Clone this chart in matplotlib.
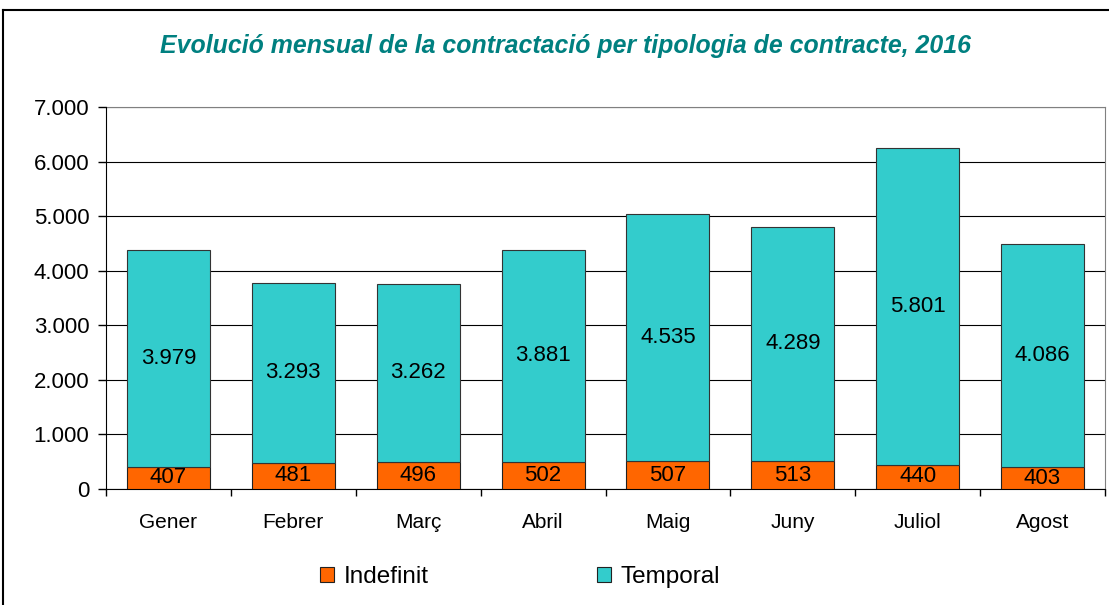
import numpy as np
import matplotlib.pyplot as plt
from matplotlib.ticker import FuncFormatter
from matplotlib.lines import Line2D
from matplotlib.patches import Patch

# data
months = ["Gener", "Febrer", "Març", "Abril", "Maig", "Juny", "Juliol", "Agost"]
indefinit = [407, 481, 496, 502, 507, 513, 440, 403]
temporal = [3979, 3293, 3262, 3881, 4535, 4289, 5801, 4086]

plt.rcParams['font.family'] = ['Liberation Sans', 'DejaVu Sans']

def fmt(v):
    return f"{int(v):,}".replace(",", ".")

fig = plt.figure(figsize=(11.09, 6.05), dpi=100)
ax = fig.add_axes([106/1109, 1 - 489/605, 999/1109, 382/605])

x = np.arange(len(months))
c_ind = "#FF6600"
c_tem = "#33CCCC"
b1 = ax.bar(x, indefinit, width=0.665, color=c_ind, edgecolor="#222222", linewidth=0.8, zorder=3)
b2 = ax.bar(x, temporal, width=0.665, bottom=indefinit, color=c_tem, edgecolor="#333333", linewidth=0.8, zorder=3)

# labels centred in each segment
for i in range(len(months)):
    ax.text(x[i], indefinit[i] / 2, fmt(indefinit[i]), ha="center", va="center", fontsize=16, zorder=4)
    ax.text(x[i], indefinit[i] + temporal[i] / 2, fmt(temporal[i]), ha="center", va="center", fontsize=16, zorder=4)

ax.set_xlim(-0.5, len(months) - 0.5)
ax.set_ylim(0, 7000)
ax.set_yticks(np.arange(0, 7001, 1000))
ax.yaxis.set_major_formatter(FuncFormatter(lambda v, p: fmt(v)))
ax.grid(axis="y", color="black", linewidth=0.8, zorder=0)

ax.set_xticks(x)
ax.set_xticklabels(months)
ax.set_xticks(np.arange(-0.5, len(months), 1), minor=True)
ax.tick_params(axis="x", which="major", length=0, pad=17, labelsize=15)
ax.tick_params(axis="x", which="minor", length=5, direction="out", width=1)
ax.tick_params(axis="y", length=6, direction="out", width=1, labelsize=16, pad=6)

for s in ["top", "right"]:
    ax.spines[s].set_color("#808080")
    ax.spines[s].set_zorder(2)
for s in ["left", "bottom"]:
    ax.spines[s].set_color("black")

fig.text(565/1109, 1 - 46/605, "Evolució mensual de la contractació per tipologia de contracte, 2016",
         ha="center", va="center", fontsize=17.9, fontweight="bold", style="italic", color="#008080")

handles = [Patch(facecolor=c_ind, edgecolor="#222222", linewidth=0.8),
           Patch(facecolor=c_tem, edgecolor="#222222", linewidth=0.8)]
fig.legend(handles, ["Indefinit", "Temporal"], loc="center", bbox_to_anchor=(520/1109, 1 - 577/605),
           ncol=2, frameon=False, fontsize=17.5, handlelength=0.6, handleheight=0.6,
           handletextpad=0.4, columnspacing=6.9)

# outer chart frame
fig.add_artist(Line2D([3/1109, 3/1109], [0, 1 - 10/605], color="black", linewidth=1.5, transform=fig.transFigure))
fig.add_artist(Line2D([3/1109, 1], [1 - 10/605, 1 - 10/605], color="black", linewidth=1.5, transform=fig.transFigure))

fig.savefig("out.png", dpi=100)
